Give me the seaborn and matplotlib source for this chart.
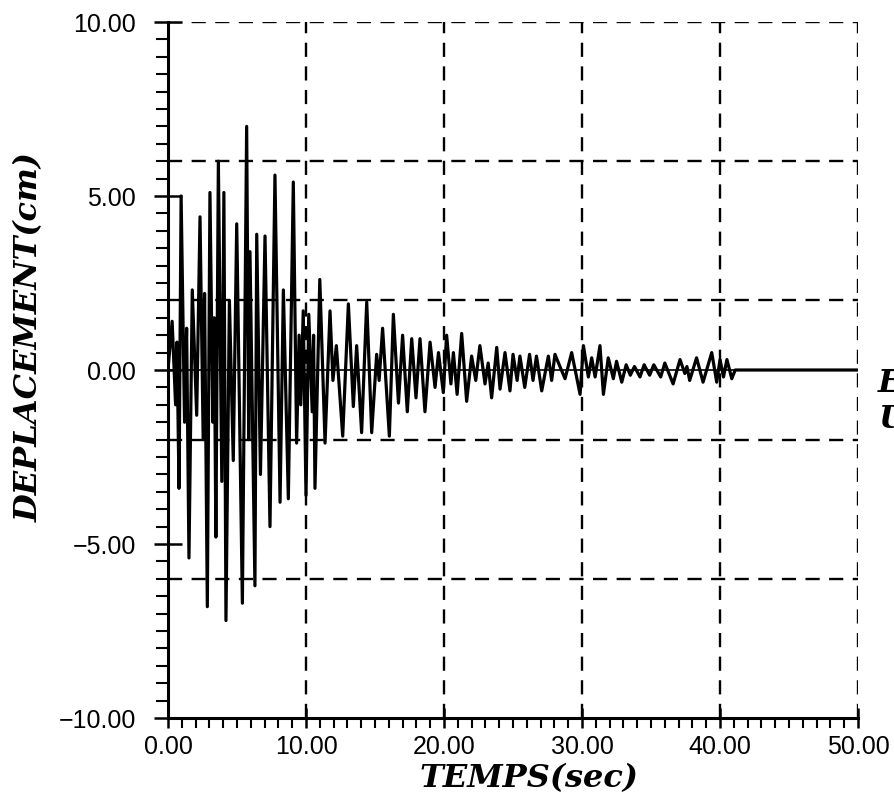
import matplotlib
matplotlib.use("Agg")
import matplotlib.pyplot as plt
import seaborn as sns
import numpy as np
import pandas as pd
from matplotlib.ticker import MultipleLocator, FuncFormatter

# extrema of the trace: time (s) and displacement (cm)
t_0_10 = [0.0, 0.3, 0.55, 0.65, 0.8, 0.95, 1.2, 1.35, 1.52, 1.76,
          2.08, 2.32, 2.55, 2.65, 2.85, 3.04, 3.25, 3.35, 3.47, 3.65,
          3.9, 4.05, 4.2, 4.45, 4.73, 4.98, 5.39, 5.7, 5.85, 5.94,
          6.3, 6.43, 6.7, 7.03, 7.39, 7.75, 8.12, 8.36, 8.72, 9.08,
          9.32, 9.5, 9.62, 9.8]
d_0_10 = [0.0, 1.4, -1.0, 0.8, -3.4, 5.0, -1.5, 1.2, -5.4, 2.3,
          -1.3, 4.4, -2.0, 2.2, -6.8, 5.1, -1.5, 1.5, -4.8, 6.0,
          -3.2, 5.1, -7.2, 2.0, -2.6, 4.2, -6.7, 7.0, -2.0, 3.4,
          -6.2, 3.9, -3.0, 3.85, -4.5, 5.6, -3.8, 2.3, -3.7, 5.4,
          -2.1, 1.0, -1.0, 1.7]

t_10_20 = [10.0, 10.2, 10.45, 10.55, 10.65, 11.0, 11.38, 11.74, 11.95, 12.2,
           12.66, 13.07, 13.43, 13.67, 14.03, 14.4, 14.76, 15.12, 15.3, 15.55,
           16.04, 16.33, 16.7, 17.0, 17.34, 17.66, 17.97, 18.26, 18.62, 18.99,
           19.35, 19.6, 19.95]
d_10_20 = [-3.6, 1.6, -1.2, 1.0, -3.4, 2.6, -2.1, 1.7, -0.3, 0.7,
           -1.9, 1.9, -1.05, 0.7, -1.8, 1.95, -1.8, 0.45, -0.3, 1.2,
           -1.9, 1.6, -0.95, 1.0, -1.2, 0.9, -0.8, 0.9, -1.2, 0.8,
           -0.5, 0.5, -0.65]

t_20_30 = [20.19, 20.5, 20.68, 20.95, 21.28, 21.64, 22.0, 22.3, 22.6, 22.97,
           23.2, 23.45, 23.82, 24.06, 24.42, 24.78, 25.0, 25.3, 25.5, 25.85,
           26.2, 26.45, 26.7, 27.08, 27.56, 27.8, 28.04, 28.4, 28.77, 29.25,
           29.86]
d_20_30 = [1.0, -0.4, 0.5, -0.7, 1.05, -0.9, 0.4, -0.3, 0.7, -0.4,
           0.2, -0.8, 0.65, -0.55, 0.5, -0.6, 0.45, -0.3, 0.4, -0.5,
           0.45, -0.3, 0.4, -0.6, 0.4, -0.3, 0.45, 0.1, -0.25, 0.5,
           -0.7]

t_30_50 = [30.1, 30.46, 30.7, 30.95, 31.3, 31.55, 31.9, 32.27, 32.5, 32.88,
           33.2, 33.5, 33.8, 34.2, 34.5, 34.9, 35.2, 35.7, 36.0, 36.6,
           37.1, 37.45, 37.6, 37.8, 38.3, 38.77, 39.4, 39.76, 40.0, 40.25,
           40.5, 40.85, 41.1, 50.0]
d_30_50 = [0.7, -0.2, 0.35, -0.2, 0.7, -0.7, 0.35, -0.25, 0.25, -0.35,
           0.15, -0.15, 0.1, -0.2, 0.15, -0.15, 0.15, -0.2, 0.2, -0.4,
           0.3, -0.1, 0.1, -0.3, 0.35, -0.35, 0.5, -0.35, 0.3, -0.2,
           0.3, -0.25, 0.0, 0.0]

grid_x = [10, 20, 30, 40, 50]
grid_y = [-6, -2, 2, 6, 10]

df = pd.DataFrame({
    "temps": t_0_10 + t_10_20 + t_20_30 + t_30_50,
    "depl": d_0_10 + d_10_20 + d_20_30 + d_30_50,
})

sns.set_style("ticks")
plt.rcParams["font.family"] = ["Liberation Sans", "DejaVu Sans"]
plt.rcParams["text.color"] = "black"
plt.rcParams["axes.labelcolor"] = "black"
plt.rcParams["xtick.color"] = "black"
plt.rcParams["ytick.color"] = "black"

fig = plt.figure(figsize=(8.95, 8.0), dpi=100)
ax = fig.add_axes([0.1877, 0.1025, 0.771, 0.87])

for gx in grid_x:
    ax.axvline(gx, color="black", lw=1.7, ls=(0, (6, 4)), zorder=1)
for gy in grid_y:
    ax.axhline(gy, color="black", lw=1.7, ls=(0, (6, 4)), zorder=1)
ax.axhline(0, color="black", lw=1.2, zorder=1)

sns.lineplot(data=df, x="temps", y="depl", ax=ax, color="black",
             lw=2.3, estimator=None, sort=False, zorder=3)

ax.set_xlim(0, 50)
ax.set_ylim(-10, 10)
ax.xaxis.set_major_locator(MultipleLocator(10))
ax.xaxis.set_minor_locator(MultipleLocator(1))
ax.yaxis.set_major_locator(MultipleLocator(5))
ax.yaxis.set_minor_locator(MultipleLocator(0.5))
fmt = FuncFormatter(lambda v, pos: f"{v:.2f}".replace("-", "\u2212"))
ax.xaxis.set_major_formatter(fmt)
ax.yaxis.set_major_formatter(fmt)

ax.tick_params(axis="x", which="major", direction="inout", length=14,
               width=1.8, labelsize=18, pad=5, colors="black")
ax.tick_params(axis="x", which="minor", direction="out", length=7, width=1.5,
               colors="black")
ax.tick_params(axis="y", which="major", direction="inout", length=20,
               width=1.8, labelsize=18, pad=13, colors="black")
ax.tick_params(axis="y", which="minor", direction="out", length=9, width=1.5,
               colors="black")

for side in ["top", "right"]:
    ax.spines[side].set_visible(False)
for side in ["left", "bottom"]:
    ax.spines[side].set_linewidth(2.2)
    ax.spines[side].set_color("black")

lab_font = dict(family=["DejaVu Serif"], weight="bold", style="italic",
                color="black")
ax.set_xlabel("TEMPS(sec)", fontsize=23, **lab_font)
ax.set_ylabel("DEPLACEMENT(cm)", fontsize=23, **lab_font)
ax.xaxis.set_label_coords(0.523, -0.065)
ax.yaxis.set_label_coords(-0.178, 0.547)

fig.text(878 / 895, 1 - 384 / 800, "E", fontsize=23, va="center", **lab_font)
fig.text(878 / 895, 1 - 419 / 800, "U", fontsize=23, va="center", **lab_font)

fig.savefig("out.png", dpi=100)
